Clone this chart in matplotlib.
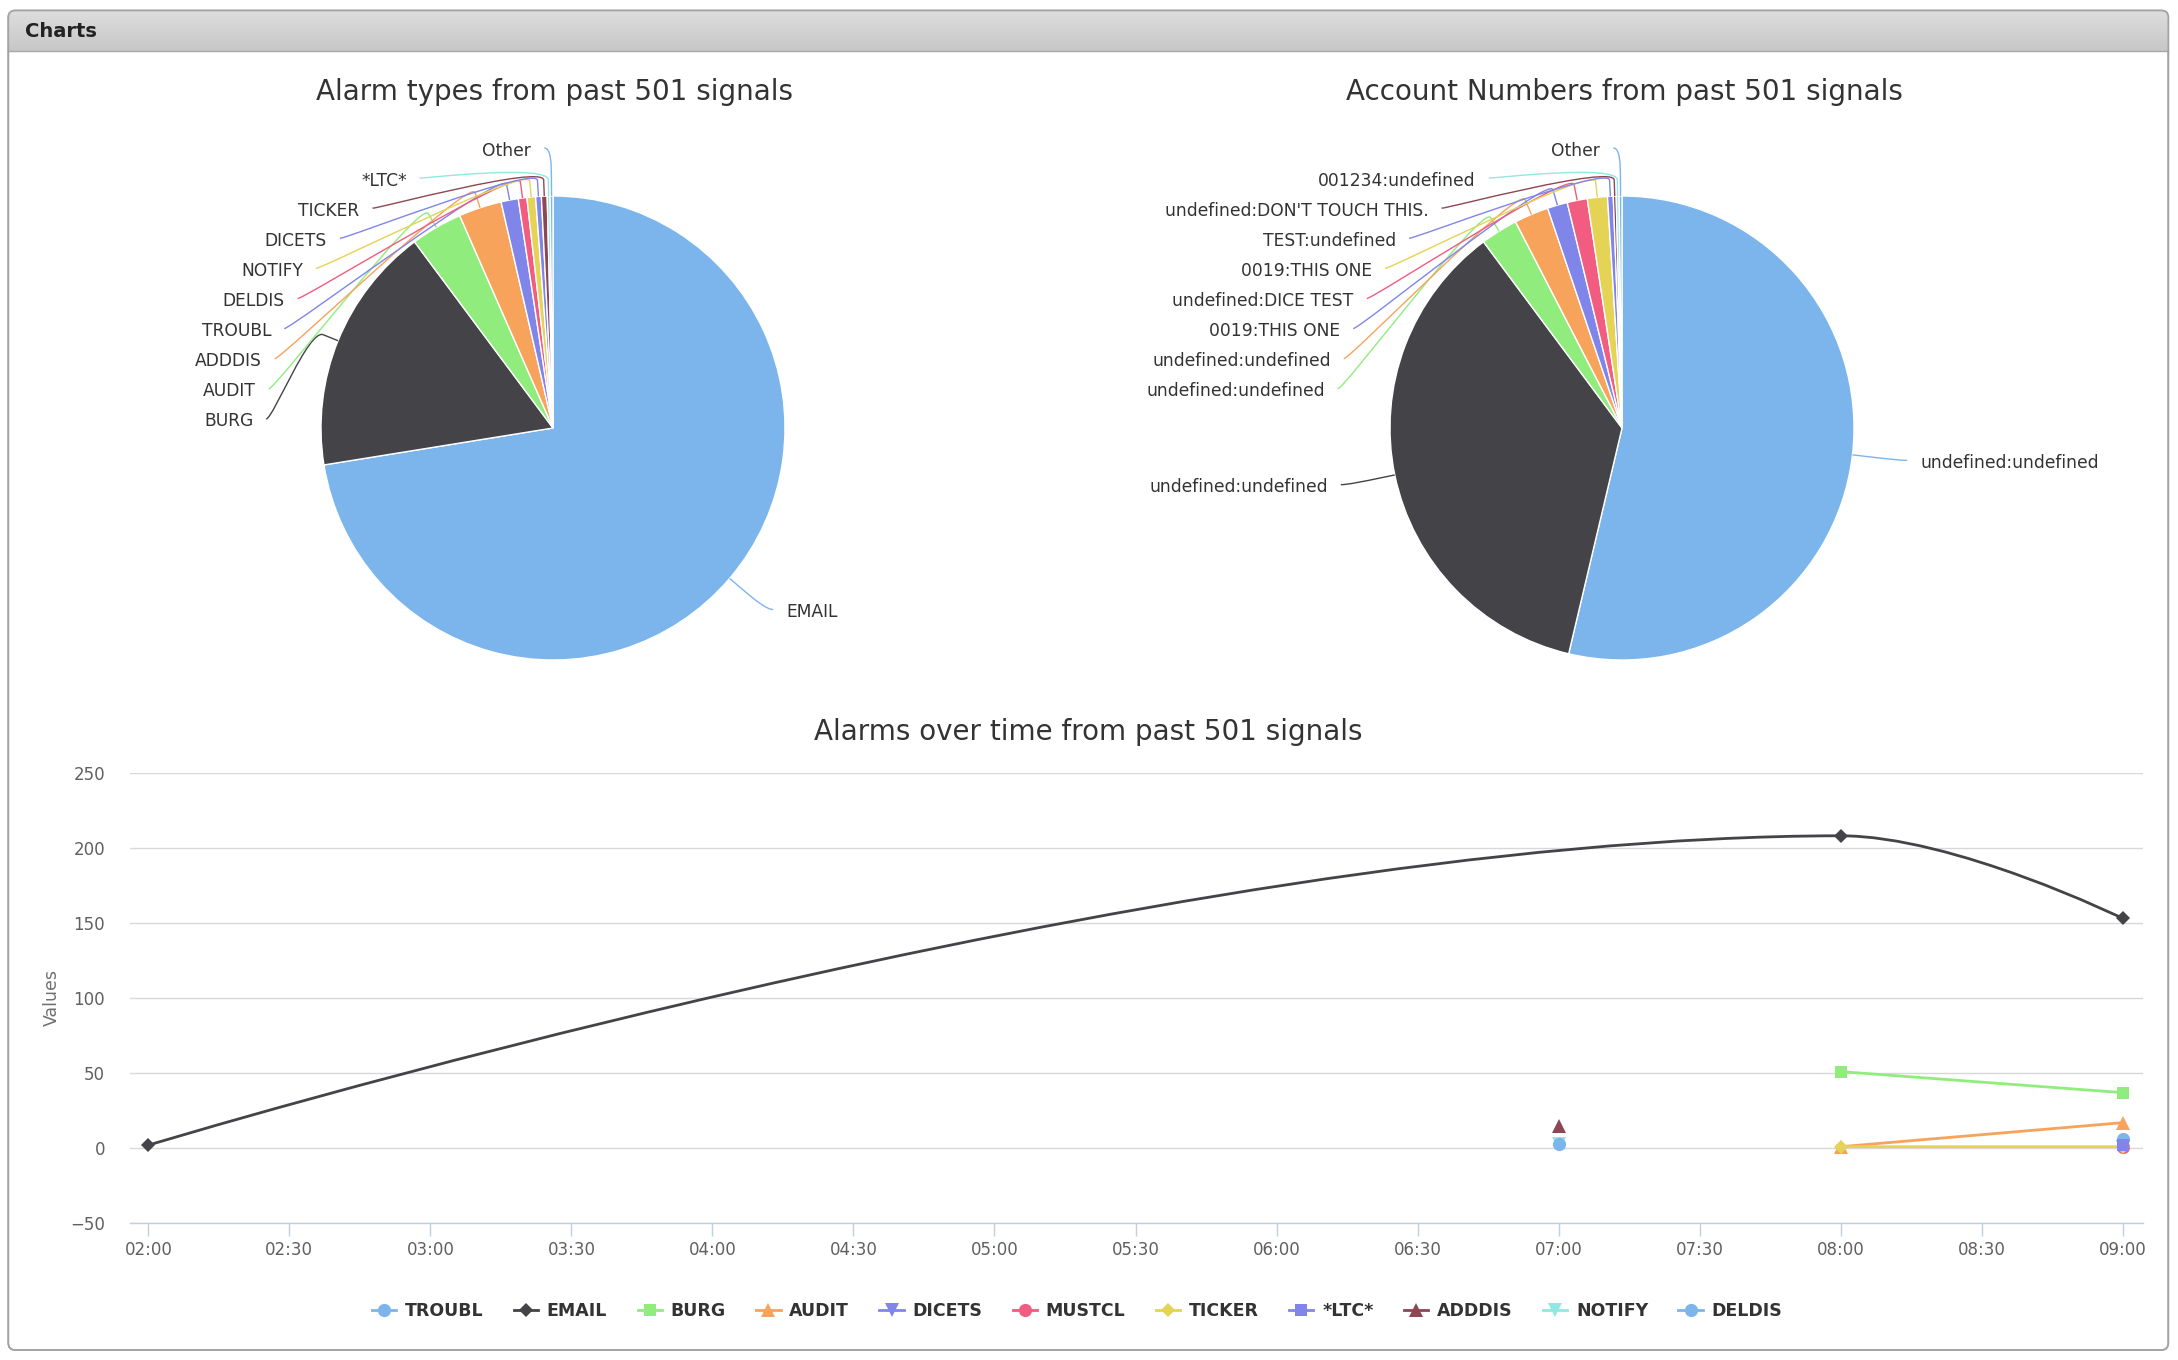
import numpy as np
import matplotlib
matplotlib.use("Agg")
import matplotlib.pyplot as plt
from matplotlib.path import Path
from matplotlib.patches import PathPatch, FancyBboxPatch
from matplotlib.lines import Line2D
from matplotlib.colors import LinearSegmentedColormap

# ---------------- data ----------------
alarm_labels = ["EMAIL", "BURG", "AUDIT", "ADDDIS", "TROUBL", "DELDIS",
                "NOTIFY", "DICETS", "TICKER", "*LTC*", "Other"]
alarm_counts = [363, 87, 18, 15, 6, 3, 3, 2, 2, 1, 1]

account_labels = ["undefined:undefined", "undefined:undefined", "undefined:undefined",
                  "undefined:undefined", "0019:THIS ONE", "undefined:DICE TEST",
                  "0019:THIS ONE", "TEST:undefined", "undefined:DON'T TOUCH THIS.",
                  "001234:undefined", "Other"]
account_counts = [269, 181, 13, 12, 7, 7, 7, 2, 1, 1, 1]

time_ticks = ["02:00", "02:30", "03:00", "03:30", "04:00", "04:30", "05:00", "05:30",
              "06:00", "06:30", "07:00", "07:30", "08:00", "08:30", "09:00"]

series_names = ["TROUBL", "EMAIL", "BURG", "AUDIT", "DICETS", "MUSTCL",
                "TICKER", "*LTC*", "ADDDIS", "NOTIFY", "DELDIS"]
troubl_t, troubl_v = ["09:00"], [6]
email_t, email_v = ["02:00", "08:00", "09:00"], [2, 208, 153]
burg_t, burg_v = ["08:00", "09:00"], [51, 37]
audit_t, audit_v = ["08:00", "09:00"], [1, 17]
dicets_t, dicets_v = ["09:00"], [1]
mustcl_t, mustcl_v = ["09:00"], [1]
ticker_t, ticker_v = ["08:00", "09:00"], [1, 1]
ltc_t, ltc_v = ["09:00"], [2]
adddis_t, adddis_v = ["07:00"], [15]
notify_t, notify_v = ["07:00"], [3]
deldis_t, deldis_v = ["07:00"], [3]

# ---------------- style ----------------
W, H = 2178, 1360
palette = ['#7cb5ec', '#434348', '#90ed7d', '#f7a35c', '#8085e9',
           '#f15c80', '#e4d354', '#8085e8', '#8d4653', '#91e8e1']
series_markers = ['o', 'D', 's', '^', 'v', 'o', 'D', 's', '^', 'v', 'o']
plt.rcParams['font.family'] = ['DejaVu Sans']

fig = plt.figure(figsize=(W / 100, H / 100), dpi=100)
fig.patch.set_facecolor('white')

# ---------------- panel frame ----------------
bg = fig.add_axes([0, 0, 1, 1], zorder=-10)
bg.set_xlim(0, W)
bg.set_ylim(H, 0)
bg.axis('off')
panel = FancyBboxPatch((8.3, 10.5), 2160, 1339.5,
                       boxstyle='round,pad=0,rounding_size=7',
                       fc='white', ec='#a3a3a3', lw=1.2, zorder=1)
bg.add_patch(panel)
grad_cmap = LinearSegmentedColormap.from_list('hdr', ['#dedede', '#c7c7c7'])
im = bg.imshow(np.linspace(0, 1, 64)[:, None], cmap=grad_cmap, aspect='auto',
               extent=(8.3, 2168.3, 51, 10.5), origin='upper', zorder=2)
im.set_clip_path(panel)
bg.plot([8.3, 2168.3], [51, 51], color='#a8a8a8', lw=1.0, zorder=3)
bg.add_patch(FancyBboxPatch((8.3, 10.5), 2160, 1339.5,
                            boxstyle='round,pad=0,rounding_size=7',
                            fc='none', ec='#a3a3a3', lw=1.2, zorder=4))
bg.text(25, 31.5, "Charts", fontsize=14, fontweight='bold', color='#222222',
        va='center', ha='left', zorder=5)

# ---------------- pies ----------------
def draw_pie(rect_px, center_px, radius, labels, values):
    x0, y0, x1, y1 = rect_px
    cx, cy = center_px
    ax = fig.add_axes([x0 / W, 1 - y1 / H, (x1 - x0) / W, (y1 - y0) / H])
    ax.set_facecolor('none')
    colors = [palette[i % len(palette)] for i in range(len(values))]
    ax.pie(values, colors=colors, startangle=90, counterclock=False,
           radius=radius, center=(0, 0), frame=True,
           wedgeprops=dict(edgecolor='white', linewidth=1.0))
    ax.set_xlim(x0 - cx, x1 - cx)
    ax.set_ylim(cy - y1, cy - y0)
    ax.set_aspect('equal')
    ax.axis('off')

    total = float(sum(values))
    cum = np.concatenate([[0], np.cumsum(values)])
    R = radius + 48
    items = []
    for i, (lab, v) in enumerate(zip(labels, values)):
        th = np.deg2rad(360.0 * (cum[i] + v / 2.0) / total)
        ux, uy = np.sin(th), np.cos(th)
        items.append(dict(lab=lab, ux=ux, uy=uy, ny=uy * R,
                          left=ux < 0, color=colors[i]))
    spacing = 30.1
    for side in (True, False):
        group = sorted([it for it in items if it['left'] == side],
                       key=lambda d: -d['ny'])
        prev = None
        for it in group:
            y = min(it['ny'], R) if prev is None else min(it['ny'], prev - spacing)
            it['y'] = y
            prev = y
    for it in items:
        s = -1 if it['left'] else 1
        y = it['y']
        xa = s * np.sqrt(max(R * R - y * y, 0.0))
        ex, ey = it['ux'] * radius, it['uy'] * radius
        bx, by = it['ux'] * (radius + 16), it['uy'] * (radius + 16)
        verts = [(xa + s * 7, y), (xa, y), (2 * bx - ex, 2 * by - ey), (bx, by), (ex, ey)]
        codes = [Path.MOVETO, Path.CURVE4, Path.CURVE4, Path.CURVE4, Path.LINETO]
        ax.add_patch(PathPatch(Path(verts, codes), fc='none', ec=it['color'],
                               lw=1.0, clip_on=False))
        ax.text(xa + s * 20, y - 2.5, it['lab'], ha='right' if it['left'] else 'left',
                va='center', fontsize=12.3, color='#333333', clip_on=False)
    return ax

draw_pie((0, 60, 1089, 700), (553, 428), 232, alarm_labels, alarm_counts)
draw_pie((1089, 60, 2178, 700), (1622, 428), 232, account_labels, account_counts)

title_kw = dict(fontsize=20, color='#333333', ha='center', va='center')
fig.text(554 / W, 1 - 92 / H, "Alarm types from past 501 signals", **title_kw)
fig.text(1624 / W, 1 - 92 / H, "Account Numbers from past 501 signals", **title_kw)
fig.text(1088 / W, 1 - 732 / H, "Alarms over time from past 501 signals", **title_kw)

# ---------------- line chart ----------------
def to_hours(ts):
    return [int(t[:2]) + int(t[3:]) / 60.0 for t in ts]

def hc_spline_path(xs, ys, smoothing=1.5):
    n = len(xs)
    left = [None] * n
    right = [None] * n
    for i in range(1, n - 1):
        px, py = xs[i], ys[i]
        lx, ly = xs[i - 1], ys[i - 1]
        nx, ny = xs[i + 1], ys[i + 1]
        d = smoothing + 1
        lcx = (smoothing * px + lx) / d
        lcy = (smoothing * py + ly) / d
        rcx = (smoothing * px + nx) / d
        rcy = (smoothing * py + ny) / d
        corr = 0.0
        if rcx != lcx:
            corr = ((rcy - lcy) * (rcx - px)) / (rcx - lcx) + py - rcy
        lcy += corr
        rcy += corr
        if lcy > ly and lcy > py:
            lcy = max(ly, py); rcy = 2 * py - lcy
        elif lcy < ly and lcy < py:
            lcy = min(ly, py); rcy = 2 * py - lcy
        if rcy > ny and rcy > py:
            rcy = max(ny, py); lcy = 2 * py - rcy
        elif rcy < ny and rcy < py:
            rcy = min(ny, py); lcy = 2 * py - rcy
        left[i] = (lcx, lcy)
        right[i] = (rcx, rcy)
    verts = [(xs[0], ys[0])]
    codes = [Path.MOVETO]
    for i in range(1, n):
        c1 = right[i - 1] if right[i - 1] is not None else (xs[i - 1], ys[i - 1])
        c2 = left[i] if left[i] is not None else (xs[i], ys[i])
        verts += [c1, c2, (xs[i], ys[i])]
        codes += [Path.CURVE4] * 3
    return Path(verts, codes)

axl = fig.add_axes([130 / W, 1 - 1223.3 / H, (2143 - 130) / W, (1223.3 - 772.7) / H])
axl.set_xlim(1.935, 9.072)
axl.set_ylim(-50, 250)
axl.set_yticks([-50, 0, 50, 100, 150, 200, 250])
axl.yaxis.grid(True, color='#D8D8D8', lw=1.0)
axl.set_axisbelow(True)
for sp in ('top', 'right', 'left'):
    axl.spines[sp].set_visible(False)
axl.spines['bottom'].set_color('#C0D0E0')
axl.spines['bottom'].set_linewidth(1.0)
axl.tick_params(axis='y', length=0, labelsize=12, labelcolor='#606060', pad=18)
xt = to_hours(time_ticks)
axl.set_xticks(xt)
axl.set_xticklabels(time_ticks)
axl.tick_params(axis='x', direction='out', length=9, width=1, color='#C0D0E0',
                labelsize=12, labelcolor='#606060', pad=4)
fig.text(52 / W, 1 - 997 / H, "Values", rotation=90, fontsize=12.5, color='#707070',
         ha='center', va='center')

series_t = [troubl_t, email_t, burg_t, audit_t, dicets_t, mustcl_t,
            ticker_t, ltc_t, adddis_t, notify_t, deldis_t]
series_v = [troubl_v, email_v, burg_v, audit_v, dicets_v, mustcl_v,
            ticker_v, ltc_v, adddis_v, notify_v, deldis_v]
marker_size = {'o': 9.5, 'D': 7.4, 's': 9.2, '^': 9.5, 'v': 9.5}
handles = []
for k, name in enumerate(series_names):
    col = palette[k % len(palette)]
    mk = series_markers[k]
    xs = to_hours(series_t[k])
    ys = series_v[k]
    z = 3 + k
    if len(xs) >= 2:
        axl.add_patch(PathPatch(hc_spline_path(xs, ys), fc='none', ec=col, lw=2.0,
                                zorder=z, capstyle='round', joinstyle='round'))
    axl.plot(xs, ys, linestyle='none', marker=mk, ms=marker_size[mk], color=col,
             mec=col, mew=0, zorder=z + 0.5, clip_on=False)
    handles.append(Line2D([], [], color=col, lw=2, marker=mk, ms=marker_size[mk],
                          mew=0))

leg = fig.legend(handles, series_names, ncol=11, loc='center',
                 bbox_to_anchor=(1077 / W, 1 - 1311 / H), frameon=False,
                 prop=dict(weight='bold', size=12.5), handlelength=1.4,
                 handletextpad=0.5, columnspacing=1.75, borderpad=0)
for t in leg.get_texts():
    t.set_color('#333333')

fig.savefig('out.png', dpi=100, facecolor='white')
